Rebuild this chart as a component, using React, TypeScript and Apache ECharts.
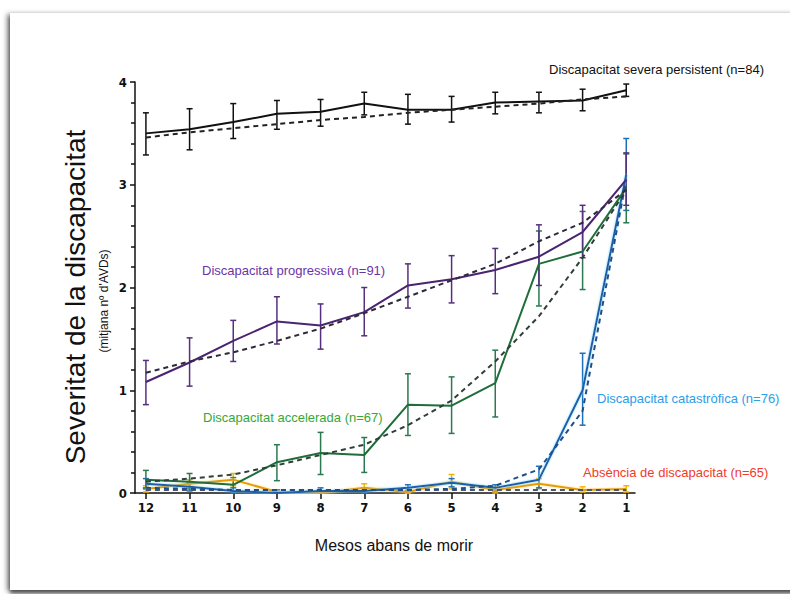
import React, { useEffect, useRef } from "react";
import * as echarts from "echarts";

const months = [12, 11, 10, 9, 8, 7, 6, 5, 4, 3, 2, 1];
const yTicks = [0, 1, 2, 3, 4];

const severa = [3.5, 3.54, 3.61, 3.69, 3.71, 3.79, 3.73, 3.73, 3.8, 3.81, 3.82, 3.92];
const severaLow = [3.29, 3.34, 3.45, 3.54, 3.57, 3.68, 3.59, 3.61, 3.69, 3.7, 3.72, 3.86];
const severaHigh = [3.7, 3.74, 3.79, 3.82, 3.83, 3.9, 3.88, 3.86, 3.9, 3.9, 3.93, 3.98];
const severaTrend = [3.46, 3.51, 3.55, 3.59, 3.63, 3.66, 3.7, 3.73, 3.76, 3.79, 3.83, 3.86];

const progressiva = [1.08, 1.27, 1.48, 1.67, 1.63, 1.76, 2.02, 2.08, 2.17, 2.3, 2.54, 3.05];
const progLow = [0.86, 1.04, 1.28, 1.45, 1.4, 1.53, 1.8, 1.85, 1.94, 2.02, 2.29, 2.8];
const progHigh = [1.29, 1.51, 1.68, 1.91, 1.84, 2.0, 2.23, 2.31, 2.38, 2.61, 2.8, 3.31];
const progTrend = [1.17, 1.28, 1.37, 1.48, 1.6, 1.75, 1.91, 2.07, 2.23, 2.45, 2.63, 2.95];

const accelerada = [0.13, 0.11, 0.08, 0.3, 0.39, 0.37, 0.86, 0.85, 1.07, 2.23, 2.35, 2.97];
const accLow = [0.05, 0.04, 0.02, 0.12, 0.18, 0.2, 0.56, 0.58, 0.74, 1.82, 1.98, 2.63];
const accHigh = [0.22, 0.19, 0.15, 0.47, 0.59, 0.54, 1.16, 1.13, 1.39, 2.55, 2.74, 3.3];
const accTrend = [0.11, 0.14, 0.18, 0.27, 0.37, 0.47, 0.66, 0.9, 1.28, 1.72, 2.29, 2.95];

const catastrofica = [0.09, 0.06, 0.02, 0.0, 0.02, 0.02, 0.05, 0.1, 0.05, 0.13, 1.0, 3.1];
const catLow = [0.04, 0.02, 0.0, 0.0, 0.0, 0.0, 0.02, 0.06, 0.02, 0.05, 0.66, 2.75];
const catHigh = [0.14, 0.1, 0.05, 0.03, 0.05, 0.05, 0.08, 0.14, 0.08, 0.26, 1.36, 3.45];
const catTrend = [0.05, 0.04, 0.03, 0.03, 0.03, 0.03, 0.03, 0.04, 0.07, 0.23, 0.8, 3.05];

const absencia = [0.04, 0.09, 0.13, 0.01, 0.0, 0.05, 0.01, 0.11, 0.03, 0.09, 0.03, 0.04];
const absLow = [0.01, 0.05, 0.07, 0.0, 0.0, 0.02, 0.0, 0.04, 0.0, 0.04, 0.01, 0.01];
const absHigh = [0.07, 0.13, 0.19, 0.03, 0.02, 0.09, 0.03, 0.18, 0.06, 0.14, 0.06, 0.07];
const absTrend = [0.03, 0.03, 0.03, 0.03, 0.03, 0.03, 0.03, 0.03, 0.03, 0.03, 0.03, 0.03];

const pairs = (vals: number[]) => months.map((m, i) => [m, vals[i]]);

function errorSeries(low: number[], high: number[], color: string, z: number) {
  return {
    type: "custom",
    z,
    silent: true,
    renderItem: (_p: any, api: any) => {
      const x = api.value(0);
      const lo = api.coord([x, api.value(1)]);
      const hi = api.coord([x, api.value(2)]);
      const w = 3;
      const st = { stroke: color, lineWidth: 1.5 };
      return {
        type: "group",
        children: [
          { type: "line", shape: { x1: lo[0], y1: lo[1], x2: hi[0], y2: hi[1] }, style: st },
          { type: "line", shape: { x1: lo[0] - w, y1: lo[1], x2: lo[0] + w, y2: lo[1] }, style: st },
          { type: "line", shape: { x1: hi[0] - w, y1: hi[1], x2: hi[0] + w, y2: hi[1] }, style: st },
        ],
      };
    },
    encode: { x: 0, y: [1, 2] },
    data: months.map((m, i) => [m, low[i], high[i]]),
  };
}

function solid(vals: number[], color: string, z: number, glow?: string) {
  return {
    type: "line",
    z,
    data: pairs(vals),
    symbol: "none",
    lineStyle: glow
      ? { color, width: 2, shadowColor: glow, shadowBlur: 2 }
      : { color, width: 2 },
  };
}

function dashed(vals: number[], color: string, z: number) {
  return {
    type: "line",
    z,
    data: pairs(vals),
    symbol: "none",
    lineStyle: { color, width: 2, type: [5, 4] },
  };
}

const labelFont = "'Liberation Sans', Arial, sans-serif";
const tickFont = "'Liberation Sans Narrow', 'DejaVu Sans Condensed', 'Liberation Sans', sans-serif";

export default function App() {
  const ref = useRef<HTMLDivElement>(null);
  useEffect(() => {
    document.body.style.margin = "0";
    if (!ref.current) return;
    const chart = echarts.init(ref.current, null, { renderer: "svg" });
    chart.setOption({
      animation: false,
      grid: { left: 135, right: 155, top: 82, bottom: 101 },
      xAxis: {
        type: "value",
        inverse: true,
        min: 0.8,
        max: 12.25,
        splitLine: { show: false },
        axisLine: { show: true, lineStyle: { color: "#111", width: 1.5 } },
        axisTick: { show: true, customValues: months, length: 6, lineStyle: { color: "#111", width: 1.5 } },
        axisLabel: {
          customValues: months,
          color: "#111",
          fontFamily: tickFont,
          fontWeight: "bold",
          fontSize: 13,
          margin: 8,
        },
      },
      yAxis: {
        type: "value",
        min: 0,
        max: 4,
        interval: 1,
        splitLine: { show: false },
        axisLine: { show: true, lineStyle: { color: "#111", width: 1.5 } },
        axisTick: { show: true, length: 5, lineStyle: { color: "#111", width: 1.5 } },
        minorTick: { show: true, splitNumber: 5, length: 4, lineStyle: { color: "#111", width: 1.5 } },
        axisLabel: {
          color: "#111",
          fontFamily: tickFont,
          fontWeight: "bold",
          fontSize: 13,
          margin: 8,
          formatter: (v: number) => (yTicks.includes(v) ? String(v) : ""),
        },
      },
      graphic: [
        {
          type: "text",
          x: 75,
          y: 297,
          rotation: Math.PI / 2,
          style: {
            text: "Severitat de la discapacitat",
            fontFamily: labelFont,
            fontSize: 28,
            fill: "#111",
            textAlign: "center",
            textVerticalAlign: "middle",
          },
        },
        {
          type: "text",
          x: 104,
          y: 301,
          rotation: Math.PI / 2,
          style: {
            text: "(mitjana nº d'AVDs)",
            fontFamily: labelFont,
            fontSize: 12,
            fill: "#111",
            textAlign: "center",
            textVerticalAlign: "middle",
          },
        },
        {
          type: "text",
          x: 394,
          y: 545,
          style: {
            text: "Mesos abans de morir",
            fontFamily: labelFont,
            fontSize: 16,
            fill: "#111",
            textAlign: "center",
            textVerticalAlign: "middle",
          },
        },
        {
          type: "text",
          x: 549,
          y: 69,
          style: { text: "Discapacitat severa persistent (n=84)", fontFamily: labelFont, fontSize: 13, fill: "#111", textVerticalAlign: "middle" },
        },
        {
          type: "text",
          x: 202,
          y: 270,
          style: { text: "Discapacitat progressiva (n=91)", fontFamily: labelFont, fontSize: 13, fill: "#6a34a8", textVerticalAlign: "middle" },
        },
        {
          type: "text",
          x: 203,
          y: 417,
          style: { text: "Discapacitat accelerada (n=67)", fontFamily: labelFont, fontSize: 13, fill: "#35a838", textVerticalAlign: "middle" },
        },
        {
          type: "text",
          x: 597,
          y: 398,
          style: { text: "Discapacitat catastròfica (n=76)", fontFamily: labelFont, fontSize: 13, fill: "#2b9ee8", textVerticalAlign: "middle" },
        },
        {
          type: "text",
          x: 583,
          y: 472,
          style: { text: "Absència de discapacitat (n=65)", fontFamily: labelFont, fontSize: 13, fill: "#f23a2c", textVerticalAlign: "middle" },
        },
      ],
      series: [
        errorSeries(absLow, absHigh, "#f0b400", 2),
        errorSeries(catLow, catHigh, "#1f6fb8", 2),
        errorSeries(accLow, accHigh, "#2a7a50", 2),
        errorSeries(progLow, progHigh, "#55307e", 2),
        errorSeries(severaLow, severaHigh, "#111", 2),
        solid(absencia, "#e89b00", 3, "#ffe27a"),
        solid(catastrofica, "#1a5fa8", 3, "#7fd4ff"),
        solid(accelerada, "#1f6e3a", 3),
        solid(progressiva, "#4a2470", 3),
        solid(severa, "#111", 3),
        dashed(absTrend, "#4a5570", 4),
        dashed(catTrend, "#1d4f8c", 4),
        dashed(accTrend, "#2f3f3a", 4),
        dashed(progTrend, "#2e2a3a", 4),
        dashed(severaTrend, "#222", 4),
      ],
    });
    return () => chart.dispose();
  }, []);

  return (
    <div style={{ position: "relative", width: 790, height: 594, background: "#fff", overflow: "hidden" }}>
      <div
        style={{
          position: "absolute",
          left: 10,
          top: 13,
          width: 800,
          height: 577,
          background: "#fff",
          boxShadow: "-3px 1px 5px rgba(0,0,0,0.45), 0 4px 4px rgba(0,0,0,0.55)",
        }}
      />
      <div ref={ref} style={{ position: "absolute", left: 0, top: 0, width: 790, height: 594 }} />
    </div>
  );
}
